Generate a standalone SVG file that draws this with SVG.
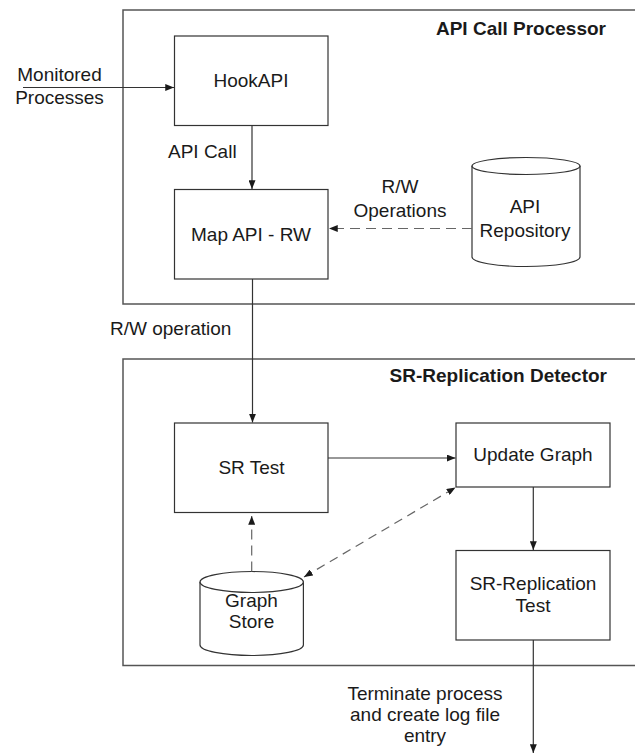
<svg xmlns="http://www.w3.org/2000/svg" width="635" height="754" viewBox="0 0 635 754">
  <style>
    text { font-family: "Liberation Sans", Arial, Helvetica, sans-serif; font-size: 19px; fill: #1a1a1a; }
    .title { font-weight: bold; text-anchor: end; }
    .mid { text-anchor: middle; }
    .frame { fill: none; stroke: #555; stroke-width: 1.5; }
    .box { fill: #fff; stroke: #333; stroke-width: 1.2; }
    .db { fill: #fff; stroke: #333; stroke-width: 1.2; }
    .flow { fill: none; stroke: #333; stroke-width: 1.2; marker-end: url(#arrow); }
    .dash { fill: none; stroke: #666; stroke-width: 1.2; stroke-dasharray: 10 6; marker-end: url(#arrow); }
  </style>
  <defs>
    <marker id="arrow" viewBox="0 0 10 8" refX="10" refY="4" markerWidth="9" markerHeight="7" markerUnits="userSpaceOnUse" orient="auto-start-reverse">
      <path d="M0,0 L10,4 L0,8 z" fill="#1a1a1a"/>
    </marker>
  </defs>

  <rect width="635" height="754" fill="#fff"/>

  <!-- containers -->
  <g id="api-call-processor">
    <rect class="frame" x="123" y="10" width="530" height="294"/>
    <text class="title" x="606" y="35">API Call Processor</text>
  </g>
  <g id="sr-replication-detector">
    <rect class="frame" x="123" y="359" width="530" height="306.5"/>
    <text class="title" x="607" y="382">SR-Replication Detector</text>
  </g>

  <!-- nodes -->
  <g id="hookapi">
    <rect class="box" x="174.5" y="36" width="153.5" height="89.5"/>
    <text class="mid" x="251" y="87">HookAPI</text>
  </g>
  <g id="map-api-rw">
    <rect class="box" x="174.5" y="189.5" width="153.5" height="89.5"/>
    <text class="mid" x="251" y="240.5">Map API - RW</text>
  </g>
  <g id="api-repository">
    <path class="db" d="M472,166 L472,257 A54,9.5 0 0 0 580,257 L580,166"/>
    <ellipse class="db" cx="526" cy="166" rx="54" ry="8.5"/>
    <text class="mid" x="525" y="213">API</text>
    <text class="mid" x="525" y="237">Repository</text>
  </g>
  <g id="sr-test">
    <rect class="box" x="174.5" y="423" width="153.5" height="89.5"/>
    <text class="mid" x="251.5" y="473.5">SR Test</text>
  </g>
  <g id="update-graph">
    <rect class="box" x="456" y="423" width="154" height="64"/>
    <text class="mid" x="533" y="461">Update Graph</text>
  </g>
  <g id="sr-replication-test">
    <rect class="box" x="456" y="550.5" width="154" height="89.5"/>
    <text class="mid" x="533" y="590">SR-Replication</text>
    <text class="mid" x="533" y="612">Test</text>
  </g>
  <g id="graph-store">
    <path class="db" d="M200,582 L200,645 A51.7,10.5 0 0 0 303.4,645 L303.4,582"/>
    <ellipse class="db" cx="251.7" cy="582" rx="51.7" ry="10.5"/>
    <text class="mid" x="251.5" y="606.5">Graph</text>
    <text class="mid" x="251.5" y="628">Store</text>
  </g>

  <!-- connectors -->
  <g id="connectors">
    <line class="flow" x1="23" y1="87.5" x2="174" y2="87.5"/>
    <line class="flow" x1="252" y1="125.5" x2="252" y2="189"/>
    <line class="dash" x1="472" y1="228.5" x2="329" y2="228.5"/>
    <line class="flow" x1="252.5" y1="279" x2="252.5" y2="422.5"/>
    <line class="flow" x1="328" y1="458" x2="455.5" y2="458"/>
    <line class="dash" x1="251.7" y1="571.5" x2="251.7" y2="516"/>
    <line class="dash" x1="304" y1="577" x2="455.5" y2="487.5" style="marker-start:url(#arrow); stroke-dasharray: 9 6"/>
    <line class="flow" x1="533.3" y1="487" x2="533.3" y2="550"/>
    <line class="flow" x1="533.3" y1="640" x2="533.3" y2="753"/>
  </g>

  <!-- connector labels -->
  <g id="labels">
    <text class="mid" x="59.5" y="81">Monitored</text>
    <text class="mid" x="59.5" y="104">Processes</text>
    <text x="168" y="158">API Call</text>
    <text class="mid" x="400" y="193">R/W</text>
    <text class="mid" x="400" y="217">Operations</text>
    <text x="110" y="335">R/W operation</text>
    <text class="mid" x="425" y="700">Terminate process</text>
    <text class="mid" x="425" y="721">and create log file</text>
    <text class="mid" x="425" y="742">entry</text>
  </g>
</svg>
